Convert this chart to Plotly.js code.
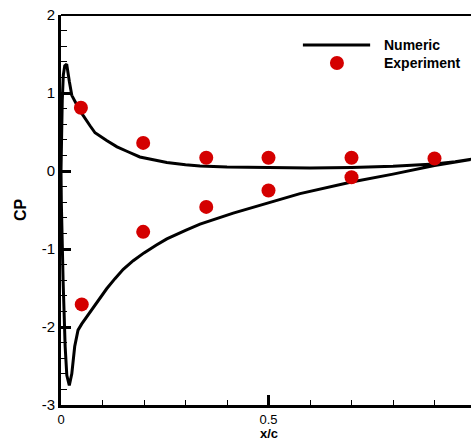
<!DOCTYPE html>
<html>
<head>
<meta charset="utf-8">
<script src="https://cdn.plot.ly/plotly-3.0.1.min.js"></script>
<style>html,body{margin:0;padding:0;background:#fff;}#chart{width:471px;height:441px;}</style>
</head>
<body>
<div id="chart"></div>
<script>
// Numeric Cp distribution (upper branch from trailing edge to leading edge, then lower branch back)
const numericX = [1.0, 0.95, 0.9, 0.8, 0.7, 0.6, 0.5, 0.4, 0.335, 0.3, 0.255, 0.22, 0.19, 0.16, 0.135, 0.11, 0.095, 0.082, 0.07, 0.058, 0.046, 0.038, 0.026, 0.02, 0.016, 0.0137, 0.009, 0.0056, 0.003, 0.0015, 0.0,
  0.0008, 0.002, 0.005, 0.01, 0.014, 0.02, 0.026, 0.033, 0.041, 0.05, 0.065, 0.08, 0.094, 0.11, 0.13, 0.15, 0.174, 0.2, 0.23, 0.255, 0.3, 0.335, 0.415, 0.5, 0.576, 0.7, 0.8, 0.9, 1.0];
const numericCp = [0.16, 0.12, 0.09, 0.06, 0.045, 0.04, 0.045, 0.05, 0.065, 0.08, 0.11, 0.15, 0.18, 0.25, 0.31, 0.39, 0.44, 0.49, 0.58, 0.67, 0.77, 0.85, 0.97, 1.15, 1.3, 1.37, 1.35, 1.23, 0.9, 0.4, 0.0,
  -0.4, -0.9, -1.4, -2.25, -2.62, -2.75, -2.6, -2.25, -2.04, -1.96, -1.85, -1.73, -1.63, -1.51, -1.38, -1.26, -1.15, -1.05, -0.95, -0.87, -0.76, -0.68, -0.54, -0.41, -0.29, -0.14, -0.04, 0.07, 0.16];

// Experimental points
const expX = [0.048, 0.198, 0.35, 0.5, 0.7, 0.9, 0.05, 0.198, 0.35, 0.5, 0.7];
const expCp = [0.81, 0.36, 0.17, 0.17, 0.17, 0.16, -1.71, -0.78, -0.46, -0.25, -0.08];

const xTickVals = [0, 0.5, 1];
const xTickText = ['0', '0.5', '1'];
const yTickVals = [2, 1, 0, -1, -2, -3];
const yTickText = ['2', '1', '0', '-1', '-2', '-3'];
const legendNames = ['Numeric', 'Experiment'];
const xTitle = 'x/c';
const yTitle = 'CP';

const traces = [
  {x: numericX, y: numericCp, mode: 'lines', name: legendNames[0],
   line: {color: '#000000', width: 3}, showlegend: false},
  {x: expX, y: expCp, mode: 'markers', name: legendNames[1],
   marker: {color: '#d40000', size: 14}, showlegend: false}
];

const fontFam = 'Liberation Sans, Arial, sans-serif';
const layout = {
  width: 471, height: 441,
  margin: {l: 61, r: 0, t: 15, b: 36, pad: 0},
  paper_bgcolor: '#ffffff', plot_bgcolor: '#ffffff',
  font: {family: fontFam, size: 15, color: '#000000'},
  showlegend: false,
  xaxis: {
    range: [0, 410/415], showgrid: false, zeroline: false,
    showline: true, linecolor: '#000', linewidth: 3,
    ticks: 'inside', ticklen: 10, tickwidth: 3, tickcolor: '#000',
    tickvals: xTickVals, ticktext: xTickText,
    tickfont: {family: fontFam, size: 13},
    minor: {dtick: 0.1, ticks: 'inside', ticklen: 5, tickwidth: 1, tickcolor: '#000', showgrid: false},
    automargin: false
  },
  yaxis: {
    range: [-3, 2], showgrid: false, zeroline: false,
    showline: true, linecolor: '#000', linewidth: 3,
    ticks: 'inside', ticklen: 10, tickwidth: 3, tickcolor: '#000',
    tickvals: yTickVals, ticktext: yTickText,
    tickfont: {family: fontFam, size: 15},
    minor: {dtick: 0.2, ticks: 'inside', ticklen: 6, tickwidth: 1, tickcolor: '#000', showgrid: false},
    title: {text: yTitle, font: {family: fontFam, size: 16, weight: 'bold'}, standoff: 12},
    automargin: false
  },
  shapes: [
    {type: 'line', xref: 'paper', yref: 'paper', x0: 0, x1: 1, y0: 1, y1: 1, line: {color: '#000', width: 2}},
    {type: 'line', xref: 'paper', yref: 'paper', x0: 0.590, x1: 0.754, y0: 0.923, y1: 0.923, line: {color: '#000', width: 3}},
    {type: 'circle', xref: 'paper', yref: 'paper', xsizemode: 'pixel', ysizemode: 'pixel',
     xanchor: 0.673, yanchor: 0.877, x0: -7, x1: 7, y0: -7, y1: 7,
     fillcolor: '#d40000', line: {width: 0}}
  ],
  annotations: [
    {xref: 'paper', yref: 'paper', x: 0.783, y: 0.923, xanchor: 'left', yanchor: 'middle', showarrow: false,
     text: legendNames[0], font: {family: fontFam, size: 14, weight: 'bold'}},
    {xref: 'paper', yref: 'paper', x: 0.783, y: 0.877, xanchor: 'left', yanchor: 'middle', showarrow: false,
     text: legendNames[1], font: {family: fontFam, size: 14, weight: 'bold'}},
    {xref: 'x', yref: 'paper', x: 0.5, y: 1 - (433.5 - 15) / 390, xanchor: 'center', yanchor: 'middle', showarrow: false,
     borderpad: 0, text: xTitle, font: {family: fontFam, size: 13, weight: 'bold'}}
  ]
};

Plotly.newPlot('chart', traces, layout, {displayModeBar: false, staticPlot: true});
</script>
</body>
</html>
